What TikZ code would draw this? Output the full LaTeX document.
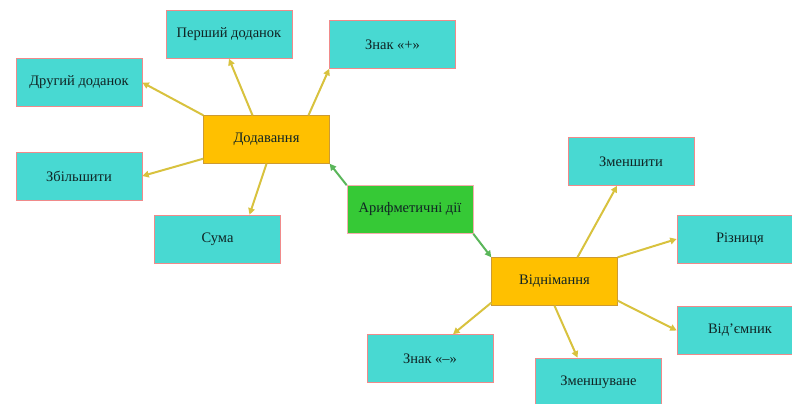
\documentclass[tikz,border=0pt]{standalone}
\usepackage{fontspec}
\setmainfont{Liberation Serif}
\usetikzlibrary{arrows.meta,calc}
\definecolor{leaf}{HTML}{48D9D2}
\definecolor{leafline}{HTML}{F08A8A}
\definecolor{mid}{HTML}{FFC000}
\definecolor{root}{HTML}{36C936}
\definecolor{txt}{HTML}{102424}
\definecolor{yarrow}{HTML}{D8C23E}
\definecolor{garrow}{HTML}{5AB65A}
\tikzset{
  leafbox/.style={rectangle, fill=leaf, draw=leafline, line width=0.6pt,
    minimum width=126pt, minimum height=48pt, text=txt, font=\fontsize{14.5}{16}\selectfont},
  midbox/.style={leafbox, fill=mid, draw=mid!80!blue, line width=0.4pt},
  rootbox/.style={leafbox, fill=root, draw=leafline!70!white},
  yconn/.style={draw=yarrow, line width=2pt, -{Triangle[length=6.5pt,width=6.5pt]}},
  gconn/.style={draw=garrow, line width=2pt, -{Triangle[length=6.5pt,width=6.5pt]}},
}
\begin{document}
\begin{tikzpicture}[x=1pt,y=-1pt]
\useasboundingbox (0,0) rectangle (792,404);
\node[leafbox] (per) at (229,34.5) {Перший доданок};
\node[leafbox] (plus) at (392.5,44.5) {Знак «+»};
\node[leafbox] (dr) at (79,82.5) {Другий доданок};
\node[midbox] (dod) at (266.5,139.5) {Додавання};
\node[leafbox] (zb) at (79,176) {Збільшити};
\node[leafbox] (suma) at (217.5,239) {Сума};
\node[rootbox] (ar) at (410,209.5) {Арифметичні дії};
\node[leafbox] (zm) at (631,161.5) {Зменшити};
\node[leafbox] (riz) at (740,239) {Різниця};
\node[midbox] (vid) at (554.5,281.5) {Віднімання};
\node[leafbox] (minus) at (430,358.5) {Знак «–»};
\node[leafbox] (zmv) at (598.5,382) {Зменшуване};
\node[leafbox] (vidm) at (740,330.5) {Від’ємник};

% root arrows
\draw[gconn] (ar.north west) -- (dod.south east);
\draw[gconn] (ar.south east) -- (vid.north west);
% Додавання arrows
\draw[yconn] (dod.north west) -- (dr.east);
\draw[yconn] ($(dod.north)+(-14,0)$) -- (per.south);
\draw[yconn] ($(dod.north)+(42,0)$) -- (plus.south west);
\draw[yconn] ($(dod.south west)+(0,-5)$) -- (zb.east);
\draw[yconn] (dod.south) -- ($(suma.north)+(32,0)$);
% Віднімання arrows
\draw[yconn] ($(vid.north)+(23,0)$) -- ($(zm.south)+(-14,0)$);
\draw[yconn] (vid.north east) -- (riz.west);
\draw[yconn] ($(vid.south east)+(0,-5)$) -- (vidm.west);
\draw[yconn] ($(vid.south west)+(0,-3)$) -- ($(minus.north)+(23,0)$);
\draw[yconn] ($(vid.south)+(0,0)$) -- ($(zmv.north)+(-21,0)$);
\end{tikzpicture}
\end{document}
